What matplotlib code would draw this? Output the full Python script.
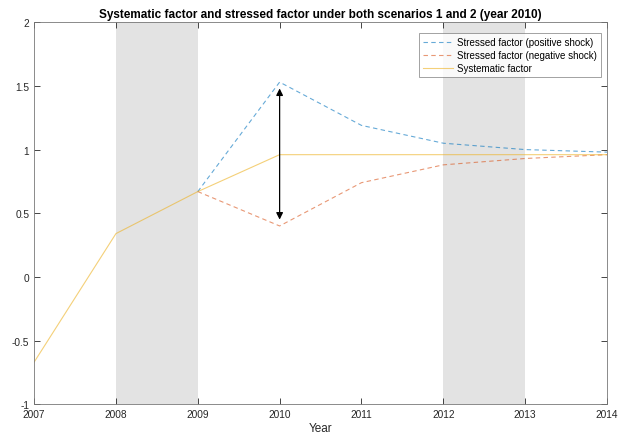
import matplotlib
matplotlib.use('Agg')
import matplotlib.pyplot as plt

years = [2007, 2008, 2009, 2010, 2011, 2012, 2013, 2014]
systematic = [-0.67, 0.34, 0.67, 0.96, 0.96, 0.96, 0.96, 0.96]
stress_years = [2009, 2010, 2011, 2012, 2013, 2014]
stressed_pos = [0.67, 1.53, 1.19, 1.05, 1.00, 0.98]
stressed_neg = [0.67, 0.40, 0.74, 0.88, 0.93, 0.96]
shaded = [(2008, 2009), (2012, 2013)]
arrow_x = 2010
arrow_top = 1.48
arrow_bottom = 0.45

plt.rcParams['font.family'] = ['Arial', 'Liberation Sans', 'DejaVu Sans']

fig = plt.figure(figsize=(6.2, 4.39), dpi=100)
ax = fig.add_axes([0.055, 0.077, 0.924, 0.870])

for a, b in shaded:
    ax.axvspan(a, b, color='#e3e3e3', lw=0, zorder=0)

ax.plot(stress_years, stressed_pos, '--', color='#0072bd', lw=0.8, alpha=0.6,
        dashes=(4, 3), label='Stressed factor (positive shock)')
ax.plot(stress_years, stressed_neg, '--', color='#d95319', lw=0.8, alpha=0.6,
        dashes=(4, 3), label='Stressed factor (negative shock)')
ax.plot(years, systematic, '-', color='#edb120', lw=0.8, alpha=0.6,
        label='Systematic factor')

ax.annotate('', xy=(arrow_x, arrow_top), xytext=(arrow_x, arrow_bottom),
            arrowprops=dict(arrowstyle='<|-|>', color='black', lw=0.9,
                            mutation_scale=10, shrinkA=0, shrinkB=0))

ax.set_xlim(2007, 2014)
ax.set_ylim(-1, 2)
ax.set_xticks(years)
ax.set_yticks([-1, -0.5, 0, 0.5, 1, 1.5, 2])
ax.set_yticklabels(['-1', '-0.5', '0', '0.5', '1', '1.5', '2'])
ax.tick_params(direction='in', labelsize=7.3, colors='#262626', length=4,
               top=True, right=True, width=0.6)
for s in ax.spines.values():
    s.set_color('#777777')
    s.set_linewidth(0.6)
ax.set_xlabel('Year', fontsize=8.5, color='#262626', labelpad=2)
ax.set_title('Systematic factor and stressed factor under both scenarios 1 and 2 (year 2010)',
             fontsize=8.5, fontweight='bold', pad=4)

leg = ax.legend(loc='upper right', fontsize=7.0, frameon=True, fancybox=False,
                edgecolor='#777777', borderpad=0.4, handlelength=3.1,
                handletextpad=0.4, borderaxespad=0,
                bbox_to_anchor=(0.9895, 0.971), labelspacing=0.3)
leg.get_frame().set_linewidth(0.6)

fig.savefig('out.png', dpi=100)
